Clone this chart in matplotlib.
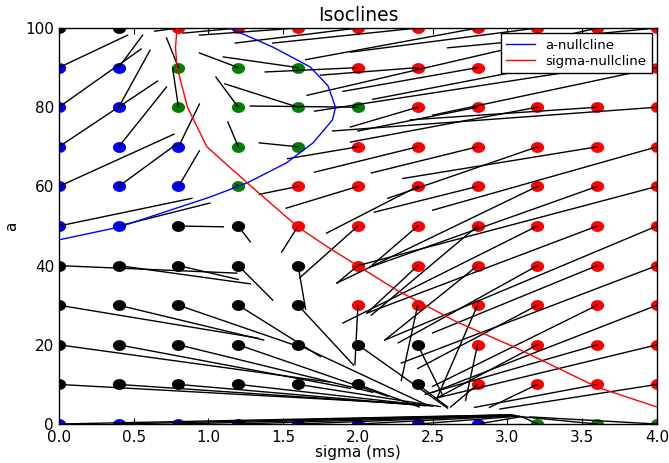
import matplotlib
matplotlib.use("Agg")
import matplotlib.pyplot as plt
import numpy as np
from matplotlib.path import Path

# ---- data ----
sigma_vals = [0.0, 0.4, 0.8, 1.2, 1.6, 2.0, 2.4, 2.8, 3.2, 3.6, 4.0]
a_vals = [0, 10, 20, 30, 40, 50, 60, 70, 80, 90, 100]

# point colours, one row per a value (a = 0 ... 100)
colors_a0   = ['b', 'b', 'b', 'b', 'b', 'b', 'b', 'b', 'g', 'g', 'g']
colors_a10  = ['k', 'k', 'k', 'k', 'k', 'k', 'k', 'r', 'r', 'r', 'r']
colors_a20  = ['k', 'k', 'k', 'k', 'k', 'k', 'k', 'r', 'r', 'r', 'r']
colors_a30  = ['k', 'k', 'k', 'k', 'k', 'r', 'r', 'r', 'r', 'r', 'r']
colors_a40  = ['k', 'k', 'k', 'k', 'k', 'r', 'r', 'r', 'r', 'r', 'r']
colors_a50  = ['b', 'b', 'k', 'k', 'r', 'r', 'r', 'r', 'r', 'r', 'r']
colors_a60  = ['b', 'b', 'b', 'g', 'r', 'r', 'r', 'r', 'r', 'r', 'r']
colors_a70  = ['b', 'b', 'b', 'g', 'g', 'r', 'r', 'r', 'r', 'r', 'r']
colors_a80  = ['b', 'b', 'g', 'g', 'g', 'g', 'r', 'r', 'r', 'r', 'r']
colors_a90  = ['b', 'b', 'g', 'g', 'g', 'r', 'r', 'r', 'r', 'r', 'r']
colors_a100 = ['k', 'k', 'r', 'r', 'r', 'r', 'r', 'r', 'r', 'r', 'r']

# end points of the segment drawn from each grid point (sigma_end, a_end)
sig_end_a0   = [3.00, 3.02, 3.03, 3.04, 3.05, 3.06, 3.08, 3.10, 3.10, 3.05, 3.15]
a_end_a0     = [2.3, 2.3, 2.3, 2.2, 2.2, 2.1, 2.0, 1.9, 1.8, 2.0, 1.8]
sig_end_a10  = [2.40, 2.42, 2.45, 2.50, 2.55, 2.41, 2.60, 2.62, 2.88, 2.78, 2.95]
a_end_a10    = [5.0, 4.8, 4.6, 4.5, 4.4, 4.3, 4.3, 4.3, 4.2, 4.2, 3.8]
sig_end_a20  = [1.81, 1.95, 2.10, 2.20, 2.45, 2.60, 2.57, 2.72, 2.53, 2.45, 2.53]
a_end_a20    = [10.6, 9.0, 8.0, 7.0, 5.0, 4.0, 7.0, 6.0, 6.6, 7.5, 6.6]
sig_end_a30  = [1.33, 1.37, 1.57, 1.75, 1.97, 1.98, 2.29, 2.53, 2.40, 2.50, 2.50]
a_end_a30    = [21.7, 21.2, 20.0, 17.0, 14.9, 15.0, 11.0, 6.6, 14.0, 9.5, 8.0]
sig_end_a40  = [1.19, 1.28, 1.20, 1.43, 1.65, 1.86, 2.06, 2.18, 2.27, 2.50, 2.29]
a_end_a40    = [38.1, 35.4, 36.5, 31.3, 29.0, 35.6, 28.0, 21.2, 20.5, 23.0, 15.4]
sig_end_a50  = [0.89, 1.01, 1.10, 1.28, 1.49, 1.61, 2.08, 2.09, 1.90, 2.06, 2.18]
a_end_a50    = [57.0, 55.8, 49.8, 46.0, 43.4, 36.9, 39.6, 27.5, 25.5, 28.0, 21.2]
sig_end_a60  = [0.77, 0.78, 0.94, 1.19, 1.34, 1.52, 1.79, 2.11, 1.86, 2.08, 2.00]
a_end_a60    = [73.2, 70.5, 69.0, 60.5, 58.0, 54.5, 48.2, 53.5, 35.6, 39.6, 40.0]
sig_end_a70  = [0.66, 0.72, 0.94, 1.13, 1.34, 1.53, 1.71, 2.09, 2.20, 2.30, 2.50]
a_end_a70    = [86.6, 85.1, 80.8, 76.3, 71.0, 67.0, 63.6, 63.4, 57.0, 62.0, 54.0]
sig_end_a80  = [0.55, 0.61, 0.76, 1.05, 1.11, 1.28, 1.95, 2.00, 1.95, 2.35, 1.83]
a_end_a80    = [94.7, 94.4, 90.0, 87.6, 85.9, 80.3, 75.0, 74.0, 71.2, 76.8, 74.0]
sig_end_a90  = [0.46, 0.56, 0.72, 0.94, 1.10, 1.38, 1.75, 1.90, 2.10, 1.71, 2.50]
a_end_a90    = [98.2, 98.2, 97.5, 93.7, 92.7, 88.9, 88.1, 84.0, 82.0, 79.0, 78.0]
sig_end_a100 = [0.00, 0.40, 0.64, 0.83, 0.94, 1.18, 1.43, 1.65, 1.95, 1.66, 2.60]
a_end_a100   = [100, 100, 99.2, 98.7, 98.2, 96.2, 96.2, 92.0, 93.9, 83.0, 95.0]

# nullclines
a_null_sigma = [0.0, 0.4, 1.01, 1.26, 1.52, 1.70, 1.83, 1.85, 1.80, 1.68, 1.43, 1.14]
a_null_a     = [46.5, 49.7, 57.3, 60.9, 65.9, 71.0, 76.8, 80.0, 85.4, 90.2, 95.2, 100]
s_null_sigma = [0.79, 0.78, 0.79, 0.86, 0.99, 1.26, 1.60, 1.81, 2.26, 2.66, 3.06, 3.60, 4.00]
s_null_a     = [100, 95, 90.2, 80, 70, 60.9, 49.7, 44.4, 33.8, 25.8, 19.2, 9.3, 4.3]

colors_rows = [colors_a0, colors_a10, colors_a20, colors_a30, colors_a40, colors_a50,
               colors_a60, colors_a70, colors_a80, colors_a90, colors_a100]
sig_end_rows = [sig_end_a0, sig_end_a10, sig_end_a20, sig_end_a30, sig_end_a40, sig_end_a50,
                sig_end_a60, sig_end_a70, sig_end_a80, sig_end_a90, sig_end_a100]
a_end_rows = [a_end_a0, a_end_a10, a_end_a20, a_end_a30, a_end_a40, a_end_a50,
              a_end_a60, a_end_a70, a_end_a80, a_end_a90, a_end_a100]

# ---- figure ----
plt.rcParams['font.family'] = ['DejaVu Sans']
fig = plt.figure(figsize=(6.69, 4.63), dpi=100)
ax = fig.add_axes([0.088, 0.0842, 0.894, 0.8553])

# elliptical marker (slightly wider than tall)
t = np.linspace(0, 2 * np.pi, 40)
ell = Path(np.column_stack([np.cos(t), 0.8 * np.sin(t)]), closed=True)

for j, a0 in enumerate(a_vals):
    for i, s0 in enumerate(sigma_vals):
        ax.plot([s0], [a0], marker=ell, color=colors_rows[j][i], markersize=8.5,
                linestyle='none', zorder=2)
for j, a0 in enumerate(a_vals):
    for i, s0 in enumerate(sigma_vals):
        ax.plot([s0, sig_end_rows[j][i]], [a0, a_end_rows[j][i]], color='k',
                linewidth=1.0, zorder=3)

ax.plot(a_null_sigma, a_null_a, color='b', linewidth=1.0, label='a-nullcline', zorder=4)
ax.plot(s_null_sigma, s_null_a, color='r', linewidth=1.0, label='sigma-nullcline', zorder=4)

ax.set_xlim(0, 4.0)
ax.set_ylim(0, 100)
ax.set_xticks([0.0, 0.5, 1.0, 1.5, 2.0, 2.5, 3.0, 3.5, 4.0])
ax.set_yticks([0, 20, 40, 60, 80, 100])
ax.tick_params(direction='in', top=True, right=True, labelsize=11, length=4)
ax.tick_params(axis='x', pad=4)
ax.set_title('Isoclines', fontsize=13.5, pad=5)
ax.set_xlabel('sigma (ms)', fontsize=11, labelpad=0)
ax.set_ylabel('a', fontsize=11)
leg = ax.legend(loc='upper right', fontsize=9.5, fancybox=False, framealpha=1,
                edgecolor='k', handlelength=2.2, labelspacing=0.25,
                borderaxespad=0.4)
leg.set_zorder(10)
for sp in ax.spines.values():
    sp.set_linewidth(1.0)

fig.savefig('out.png', dpi=100)
